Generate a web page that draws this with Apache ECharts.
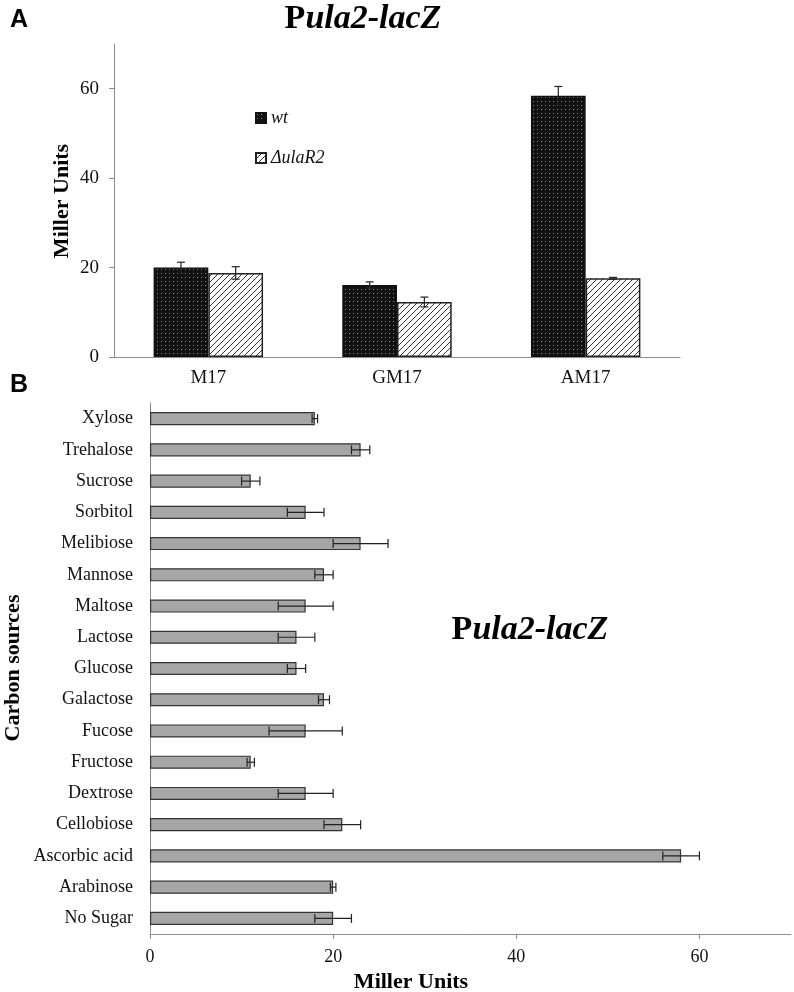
<!DOCTYPE html>
<html lang="en">
<head>
    <meta charset="UTF-8">
    <title>Pula2-lacZ</title>
    <style>
        html, body { margin: 0; padding: 0; background: #fff; }
        #main { width: 794px; height: 992px; }
    </style>
</head>
<body>
    <div id="main"></div>

    <script src="https://cdn.jsdelivr.net/npm/echarts@6/dist/echarts.min.js"></script>
    <script>
        // panel A: growth media
        var media = ['M17', 'GM17', 'AM17'];
        var wtVals = [20, 16.1, 58.4];
        var wtErr = [1.2, 0.7, 2.1];
        var ulaVals = [18.8, 12.3, 17.6];
        var ulaErr = [1.4, 1.1, 0.2];

        // panel B: carbon sources (top to bottom)
        var sugars = ['Xylose', 'Trehalose', 'Sucrose', 'Sorbitol', 'Melibiose', 'Mannose',
            'Maltose', 'Lactose', 'Glucose', 'Galactose', 'Fucose', 'Fructose', 'Dextrose',
            'Cellobiose', 'Ascorbic acid', 'Arabinose', 'No Sugar'];
        var sugarVals = [18, 23, 11, 17, 23, 19, 17, 16, 16, 19, 17, 11, 17, 21, 58, 20, 20];
        var sugarErr = [0.3, 1, 1, 2, 3, 1, 3, 2, 1, 0.6, 4, 0.4, 3, 2, 2, 0.3, 2];

        var ticks = [0, 20, 40, 60];

        var serif = 'Liberation Serif';
        var axisGray = '#8c8c8c';
        var gapA = 0.42, gapB = 0.58;

        // fill patterns
        function dotPattern() {
            var c = document.createElement('canvas');
            c.width = 4; c.height = 4;
            var g = c.getContext('2d');
            g.fillStyle = '#111';
            g.fillRect(0, 0, 4, 4);
            g.fillStyle = 'rgba(255,255,255,0.5)';
            g.fillRect(1, 1, 1, 1);
            return c;
        }
        function hatchPattern() {
            var c = document.createElement('canvas');
            c.width = 6; c.height = 6;
            var g = c.getContext('2d');
            g.fillStyle = '#fff';
            g.fillRect(0, 0, 6, 6);
            g.strokeStyle = '#333';
            g.lineWidth = 1;
            g.beginPath();
            g.moveTo(0, 6); g.lineTo(6, 0);
            g.moveTo(-1, 1); g.lineTo(1, -1);
            g.moveTo(5, 7); g.lineTo(7, 5);
            g.stroke();
            return c;
        }

        var errA = [];
        media.forEach(function (m, i) {
            errA.push([i, 0, wtVals[i], wtErr[i]]);
            errA.push([i, 1, ulaVals[i], ulaErr[i]]);
        });
        var errB = sugars.map(function (s, i) { return [i, sugarVals[i], sugarErr[i]]; });

        var lineStyle = { stroke: '#222', lineWidth: 1.2 };

        function renderErrA(params, api) {
            var ci = api.value(0), si = api.value(1), v = api.value(2), e = api.value(3);
            var catW = api.size([1, 0])[0];
            var bw = catW * (1 - gapA) / 2;
            var top = api.coord([ci, v + e]);
            var bot = api.coord([ci, v - e]);
            var x = top[0] + (si === 0 ? -bw / 2 : bw / 2);
            var cw = 4;
            return {
                type: 'group',
                children: [
                    { type: 'line', shape: { x1: x, y1: top[1], x2: x, y2: bot[1] }, style: lineStyle },
                    { type: 'line', shape: { x1: x - cw, y1: top[1], x2: x + cw, y2: top[1] }, style: lineStyle },
                    { type: 'line', shape: { x1: x - cw, y1: bot[1], x2: x + cw, y2: bot[1] }, style: lineStyle }
                ]
            };
        }

        function renderErrB(params, api) {
            var idx = api.value(0), v = api.value(1), e = api.value(2);
            var lo = api.coord([v - e, idx]);
            var hi = api.coord([v + e, idx]);
            var ch = 4.5;
            return {
                type: 'group',
                children: [
                    { type: 'line', shape: { x1: lo[0], y1: lo[1], x2: hi[0], y2: hi[1] }, style: lineStyle },
                    { type: 'line', shape: { x1: lo[0], y1: lo[1] - ch, x2: lo[0], y2: lo[1] + ch }, style: lineStyle },
                    { type: 'line', shape: { x1: hi[0], y1: hi[1] - ch, x2: hi[0], y2: hi[1] + ch }, style: lineStyle }
                ]
            };
        }

        var titleRich = {
            p: { fontFamily: serif, fontWeight: 'bold', fontSize: 34, color: '#000' },
            i: { fontFamily: serif, fontWeight: 'bold', fontStyle: 'italic', fontSize: 34, color: '#000' }
        };

        var legendText = { fontFamily: serif, fontStyle: 'italic', fontSize: 18, color: '#111' };
        var nameFont = 'bold 22px "Liberation Serif", serif';

        var chart = echarts.init(document.getElementById('main'));

        var option = {
            animation: false,
            backgroundColor: '#fff',
            textStyle: { fontFamily: serif, color: '#111' },
            grid: [
                { left: 114, top: 44, width: 566, height: 313, outerBoundsMode: 'none' },
                { left: 150, top: 403, width: 641, height: 531, outerBoundsMode: 'none' }
            ],
            legend: [
                {
                    data: [{ name: 'wt', icon: 'rect' }], left: 250, top: 104,
                    itemWidth: 10, itemHeight: 10, textStyle: legendText
                },
                {
                    data: [{ name: 'ΔulaR2', icon: 'rect' }], left: 250, top: 144,
                    itemWidth: 10, itemHeight: 10, textStyle: legendText
                }
            ],
            xAxis: [
                {
                    gridIndex: 0, type: 'category', data: media,
                    axisLine: { lineStyle: { color: axisGray, width: 1 } },
                    axisTick: { length: 5, lineStyle: { color: axisGray } },
                    axisLabel: { fontFamily: serif, fontSize: 19, color: '#111', margin: 12 }
                },
                {
                    gridIndex: 1, type: 'value', min: 0, max: 70, interval: 10,
                    splitLine: { show: false },
                    axisLine: { show: true, lineStyle: { color: axisGray, width: 1 } },
                    axisTick: { show: true, length: 5, customValues: ticks, lineStyle: { color: axisGray } },
                    axisLabel: { fontFamily: serif, fontSize: 18, color: '#111', margin: 14, customValues: ticks }
                }
            ],
            yAxis: [
                {
                    gridIndex: 0, type: 'value', min: 0, max: 70, interval: 10,
                    splitLine: { show: false },
                    axisLine: { show: true, lineStyle: { color: axisGray, width: 1 } },
                    axisTick: { show: true, length: 5, customValues: ticks, lineStyle: { color: axisGray } },
                    axisLabel: { fontFamily: serif, fontSize: 19, color: '#111', margin: 15, customValues: ticks }
                },
                {
                    gridIndex: 1, type: 'category', data: sugars, inverse: true,
                    axisLine: { lineStyle: { color: axisGray, width: 1 } },
                    axisTick: { length: 7, lineStyle: { color: axisGray } },
                    axisLabel: { fontFamily: serif, fontSize: 18, color: '#111', margin: 17 }
                }
            ],
            series: [
                {
                    name: 'wt', type: 'bar', xAxisIndex: 0, yAxisIndex: 0, data: wtVals,
                    barGap: '0%', barCategoryGap: (gapA * 100) + '%',
                    itemStyle: { color: { image: dotPattern(), repeat: 'repeat' }, borderColor: '#111', borderWidth: 1.5 }
                },
                {
                    name: 'ΔulaR2', type: 'bar', xAxisIndex: 0, yAxisIndex: 0, data: ulaVals,
                    barGap: '0%', barCategoryGap: (gapA * 100) + '%',
                    itemStyle: { color: { image: hatchPattern(), repeat: 'repeat' }, borderColor: '#222', borderWidth: 1.5 }
                },
                {
                    name: 'errA', type: 'custom', xAxisIndex: 0, yAxisIndex: 0,
                    data: errA, encode: { x: 0, y: 2 }, renderItem: renderErrA, z: 5
                },
                {
                    name: 'sources', type: 'bar', xAxisIndex: 1, yAxisIndex: 1, data: sugarVals,
                    barCategoryGap: (gapB * 100) + '%',
                    itemStyle: { color: '#a6a6a6', borderColor: '#333', borderWidth: 1.2 }
                },
                {
                    name: 'errB', type: 'custom', xAxisIndex: 1, yAxisIndex: 1,
                    data: errB, encode: { x: 1, y: 0 }, renderItem: renderErrB, z: 5
                }
            ],
            graphic: [
                {
                    type: 'text', x: 10, y: 8,
                    style: { text: 'A', font: 'bold 25px "Liberation Sans", sans-serif', fill: '#000' }
                },
                {
                    type: 'text', x: 10, y: 373,
                    style: { text: 'B', font: 'bold 25px "Liberation Sans", sans-serif', fill: '#000' }
                },
                {
                    type: 'text', x: 363, y: 19,
                    style: { text: '{p|P}{i|ula2-lacZ}', rich: titleRich, align: 'center', verticalAlign: 'middle' }
                },
                {
                    type: 'text', x: 530, y: 630,
                    style: { text: '{p|P}{i|ula2-lacZ}', rich: titleRich, align: 'center', verticalAlign: 'middle' }
                },
                {
                    type: 'text', x: 62, y: 201, rotation: Math.PI / 2,
                    style: { text: 'Miller Units', font: nameFont, fill: '#000', align: 'center', verticalAlign: 'middle' }
                },
                {
                    type: 'text', x: 13, y: 668, rotation: Math.PI / 2,
                    style: { text: 'Carbon sources', font: nameFont, fill: '#000', align: 'center', verticalAlign: 'middle' }
                },
                {
                    type: 'text', x: 411, y: 982,
                    style: { text: 'Miller Units', font: nameFont, fill: '#000', align: 'center', verticalAlign: 'middle' }
                }
            ]
        };
        option && chart.setOption(option);
    </script>
</body>
</html>
